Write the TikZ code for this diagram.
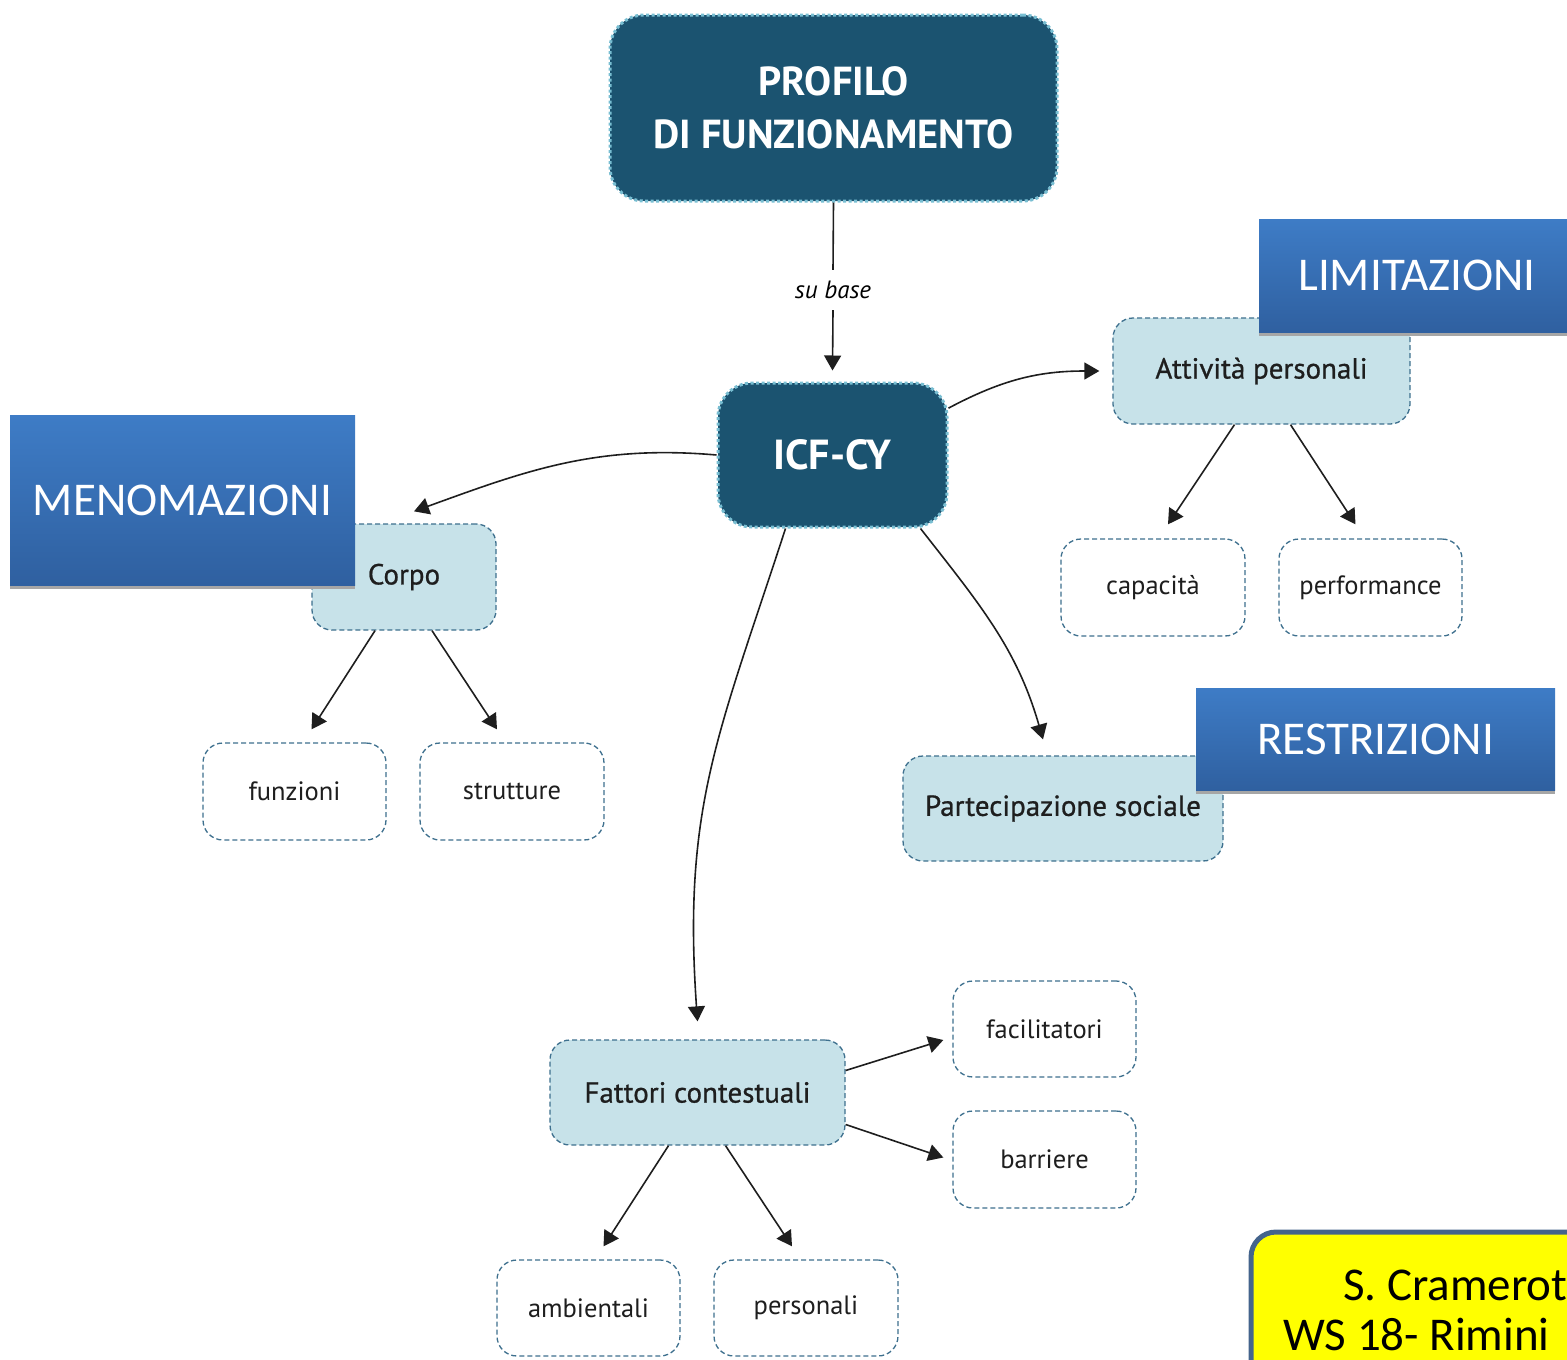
\documentclass[tikz,border=0pt]{standalone}
\usepackage{fontspec}
\setmainfont{PT Sans}
\newfontfamily\calibri{Carlito}
\newfontfamily\midfont[FakeBold=0.8]{PT Sans}
\usepackage{tikz}
\usetikzlibrary{
  arrows.meta,
  positioning,
  shadows,
}
\definecolor{icfNavy}    {RGB}{ 27,  83, 112}
\definecolor{icfDash}    {RGB}{120, 190, 210}
\definecolor{icfPale}    {RGB}{199, 226, 233}
\definecolor{icfEdge}    {RGB}{ 62, 112, 142}
\definecolor{icfTagTop}  {RGB}{ 62, 124, 198}
\definecolor{icfTagBot}  {RGB}{ 47,  96, 160}
\definecolor{icfInk}     {RGB}{ 30,  30,  30}
\definecolor{icfNote}    {RGB}{255, 255,   0}
\definecolor{icfNoteEdge}{RGB}{ 68, 100, 140}

\begin{document}
\begin{tikzpicture}[
  x=1pt, y=1pt,
  darkbox/.style={draw=icfDash, fill=icfNavy, line width=3pt, dash pattern=on 3pt off 2.5pt,
    rounded corners=34pt, text=white, font=\bfseries, align=center, inner sep=0pt},
  midbox/.style={draw=icfEdge, fill=icfPale, line width=1.3pt, dash pattern=on 5pt off 3pt,
    rounded corners=20pt, text=icfInk, font=\midfont\fontsize{29}{34}\selectfont, inner sep=0pt},
  leafbox/.style={midbox, fill=white, font=\fontsize{26.5}{31}\selectfont},
  tagbox/.style={top color=icfTagTop, bottom color=icfTagBot, draw=none, text=white,
    font=\calibri\fontsize{47}{56}\selectfont, inner sep=0pt,
    general shadow={fill=black!35, shadow yshift=-4pt}},
  arr/.style={draw=icfInk, line width=1.6pt, -{Triangle[length=15pt,width=17pt]}},
]
  \useasboundingbox (0,0) rectangle (1567,-1360);
  \clip (0,0) rectangle (1567,-1360);

  % Main boxes
  \node[darkbox, minimum width=447pt, minimum height=186pt, font=\bfseries\fontsize{40.5}{53}\selectfont]
    (profilo) at (833.5,-108) {PROFILO\\DI FUNZIONAMENTO};
  \node[darkbox, minimum width=229pt, minimum height=144pt, font=\bfseries\fontsize{42}{50}\selectfont]
    (icf) at (832.5,-455) {ICF-CY};

  % Second level
  \node[midbox, minimum width=297pt, minimum height=106pt] (att)   at (1261.5,-371)  {Attività personali};
  \node[midbox, minimum width=184pt, minimum height=106pt] (corpo) at (404,-577)     {Corpo};
  \node[midbox, minimum width=320pt, minimum height=105pt] (part)  at (1063,-808.5)  {Partecipazione sociale};
  \node[midbox, minimum width=295pt, minimum height=105pt] (fatt)  at (697.5,-1092.5) {Fattori contestuali};

  % Leaves
  \node[leafbox, minimum width=184pt, minimum height=97pt] (cap)   at (1153,-587.5)   {capacità};
  \node[leafbox, minimum width=183pt, minimum height=97pt] (perf)  at (1370.5,-587.5) {performance};
  \node[leafbox, minimum width=183pt, minimum height=97pt] (funz)  at (294.5,-791.5)  {funzioni};
  \node[leafbox, minimum width=184pt, minimum height=97pt] (strut) at (512,-791.5)    {strutture};
  \node[leafbox, minimum width=183pt, minimum height=96pt] (facil) at (1044.5,-1029)  {facilitatori};
  \node[leafbox, minimum width=183pt, minimum height=97pt] (barr)  at (1044.5,-1159.5) {barriere};
  \node[leafbox, minimum width=183pt, minimum height=96pt] (amb)   at (588.5,-1308)   {ambientali};
  \node[leafbox, minimum width=184pt, minimum height=96pt] (pers)  at (806,-1308)     {personali};

  % su base
  \node[fill=white, inner sep=0pt, minimum height=40pt, font=\itshape\fontsize{25}{28}\selectfont]
    (subase) at (833,-290) {su base};
  \draw[draw=icfInk, line width=1.6pt] (profilo.south) -- (subase.north);
  \draw[arr] (subase.south) -- ([yshift=11pt]icf.north);

  % Curved links from ICF-CY
  \draw[arr] (icf.22) to[out=28, in=180] ([xshift=-13pt]att.west);
  \draw[arr] (icf.west) to[out=175, in=20] ([xshift=10pt, yshift=12pt]corpo.north);
  \draw[arr] ([xshift=88pt]icf.south) to[out=-52, in=106] ([xshift=-20pt, yshift=16pt]part.north);
  \draw[arr] ([xshift=-47pt]icf.south) to[out=-108, in=94, looseness=1.1] ([yshift=18pt]fatt.north);

  % Straight links to leaves
  \draw[arr] ([xshift=-27pt]att.south)   -- ([xshift=15pt, yshift=14pt]cap.north);
  \draw[arr] ([xshift=29pt]att.south)    -- ([xshift=-15pt, yshift=14pt]perf.north);
  \draw[arr] ([xshift=-29pt]corpo.south) -- ([xshift=17pt, yshift=13pt]funz.north);
  \draw[arr] ([xshift=28pt]corpo.south)  -- ([xshift=-15pt, yshift=13pt]strut.north);
  \draw[arr] ([xshift=-29pt]fatt.south)  -- ([xshift=15pt, yshift=13pt]amb.north);
  \draw[arr] ([xshift=28pt]fatt.south)   -- ([xshift=-14pt, yshift=13pt]pers.north);
  \draw[arr] ([yshift=22pt]fatt.east)    -- ([xshift=-9pt, yshift=-11pt]facil.west);
  \draw[arr] ([yshift=-32pt]fatt.east)   -- ([xshift=-9pt, yshift=2pt]barr.west);

  % Blue tags (over the boxes)
  \node[tagbox, minimum width=345pt, minimum height=170pt] (meno)  at (182.5,-500)  {MENOMAZIONI};
  \node[tagbox, minimum width=316pt, minimum height=113pt] (limit) at (1417,-275.5) {LIMITAZIONI};
  \node[tagbox, minimum width=359pt, minimum height=102pt] (restr) at (1375.5,-739) {RESTRIZIONI};

  % Note in the corner
  \draw[draw=icfNoteEdge, fill=icfNote, line width=5pt, rounded corners=25pt]
    (1251,-1232) rectangle (1620,-1420);
  \node[anchor=base west, inner sep=0pt, font=\calibri\fontsize{47}{56}\selectfont] (note1) at (1343,-1300) {S. Cramerot};
  \node[anchor=base west, inner sep=0pt, font=\calibri\fontsize{47}{56}\selectfont] (note2) at (1283,-1350) {WS 18- Rimini};
\end{tikzpicture}
\end{document}
